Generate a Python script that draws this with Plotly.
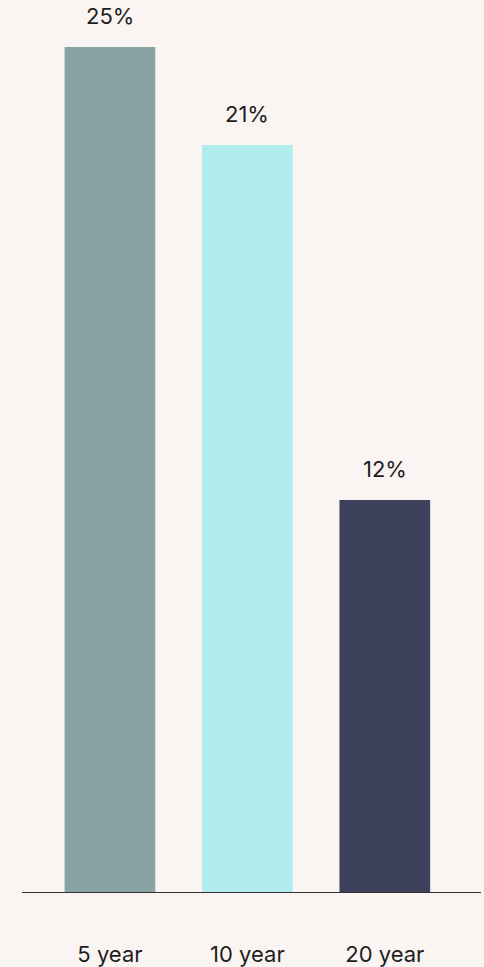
import plotly.graph_objects as go

categories = ["5 year", "10 year", "20 year"]
values = [25.0, 22.1, 11.6]
value_labels = ["25%", "21%", "12%"]
colors = ["#88A3A3", "#B2EDED", "#3D415C"]

fig = go.Figure()
fig.add_trace(go.Bar(
    x=categories, y=values, marker=dict(color=colors, line=dict(width=0)),
    width=0.66, hoverinfo="skip", showlegend=False,
))
for c, v, t in zip(categories, values, value_labels):
    fig.add_annotation(x=c, y=v, text=t, showarrow=False, yanchor="bottom",
                       yshift=16, font=dict(family="Inter", size=22, color="#1E1E1E"))

fig.update_layout(
    width=484, height=967,
    margin=dict(l=22, r=3, t=0, b=75),
    paper_bgcolor="#FAF5F2", plot_bgcolor="#FAF5F2",
    font=dict(family="Inter", size=22, color="#1E1E1E"),
    xaxis=dict(type="category", range=[-0.64, 2.70], showline=True, linecolor="#333333",
               linewidth=1, ticks="", showgrid=False, zeroline=False,
               ticklabelstandoff=43, tickfont=dict(family="Inter", size=22, color="#1E1E1E")),
    yaxis=dict(range=[0, 26.39], visible=False, showgrid=False, zeroline=False),
)
fig.write_html("out.html", config={"displayModeBar": False},
               post_script="document.body.style.margin='0';document.body.style.background='#FAF5F2';")
